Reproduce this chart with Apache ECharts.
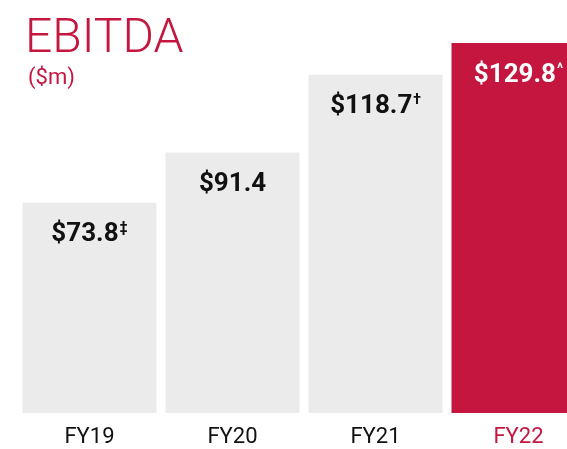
<!DOCTYPE html>
<html>
<head>
<meta charset="utf-8">
<script src="https://cdn.jsdelivr.net/npm/echarts@6/dist/echarts.min.js"></script>
<style>
	html, body { margin: 0; padding: 0; background: #fff; }
	#ebitda-chart { width: 567px; height: 449px; }
</style>
</head>
<body>
<div id="ebitda-chart"></div>
<script>
// chart data
const categories = ['FY19', 'FY20', 'FY21', 'FY22'];
const ebitdaValues = [73.8, 91.4, 118.7, 129.8];
const footnoteMarks = ['‡', '', '†', '^'];

const GREY = '#ebebeb';
const RED = '#c4163f';

let myChart = echarts.init(document.getElementById('ebitda-chart'));

let _seriesData = [];
ebitdaValues.forEach(function(val, i) {
	let last = i === ebitdaValues.length - 1;
	_seriesData.push({
		value: val,
		itemStyle: { color: last ? RED : GREY },
		label: { color: last ? '#fff' : '#111' }
	});
});

let option = {
	animation: false,
	textStyle: { fontFamily: 'Roboto' },
	title: [
		{
			text: 'EBITDA',
			left: 20,
			top: 11,
			textStyle: { fontSize: 48, fontWeight: 300, color: RED, fontFamily: 'Roboto' }
		},
		{
			text: '($m)',
			left: 23,
			top: 62,
			textStyle: { fontSize: 22, fontWeight: 'normal', color: RED, fontFamily: 'Roboto' }
		}
	],
	grid: { left: 18, top: 43, width: 572, bottom: 36, outerBoundsMode: 'none' },
	xAxis: {
		type: 'category',
		data: categories,
		axisLine: { show: false },
		axisTick: { show: false },
		axisLabel: {
			margin: 13,
			fontSize: 22,
			fontFamily: 'Roboto',
			color: function(val, idx) {
				return idx === categories.length - 1 ? RED : '#111';
			}
		}
	},
	yAxis: {
		type: 'value',
		min: 0,
		max: 129.8,
		show: false,
		splitLine: { show: false }
	},
	series: [
		{
			type: 'bar',
			barWidth: 134,
			data: _seriesData,
			label: {
				show: true,
				position: 'insideTop',
				distance: 19,
				formatter: function(p) {
					let mark = footnoteMarks[p.dataIndex];
					return '{v|$' + p.value.toFixed(1) + '}' + (mark ? '{s|' + mark + '}' : '');
				},
				rich: {
					v: { fontSize: 26, fontWeight: 'bold', fontFamily: 'Roboto' },
					s: { fontSize: 14, fontWeight: 'bold', fontFamily: 'Roboto', padding: [0, 0, 12, 1] }
				}
			}
		}
	]
};

myChart.setOption(option);
</script>
</body>
</html>
